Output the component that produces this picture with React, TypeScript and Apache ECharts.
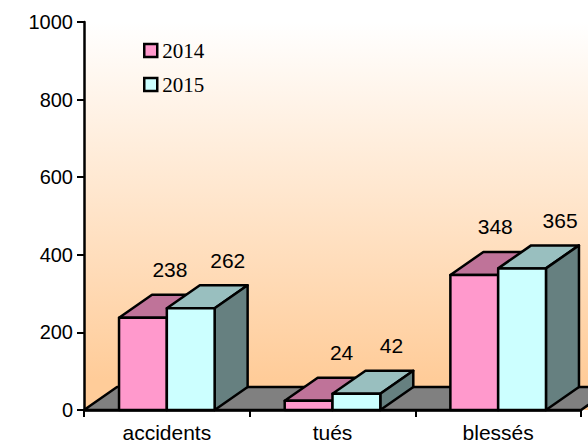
import React, { useEffect, useRef } from "react";
import * as echarts from "echarts";

const categories = ["accidents", "tués", "blessés"];
const values2014 = [238, 24, 348];
const values2015 = [262, 42, 365];
const seriesNames = ["2014", "2015"];
const yTicks = { min: 0, max: 1000, interval: 200 };

const DEPTH_X = 33;
const DEPTH_Y = 23;
const BAR_RATIO = 0.2885;
const LABEL_LIFT = 48;
const labelShift2014 = [27, 33, 21];
const labelShift2015 = [37, 35, 38];
const SANS = '"Liberation Sans", Arial, sans-serif';
const SERIF = '"Liberation Serif", "Times New Roman", serif';
const LINE = { stroke: "#000", lineWidth: 2.5, lineJoin: "round" as const };

function barSeries(name: string, values: number[], offset: number, shift: number[], colors: { front: string; top: string; side: string }) {
  return {
    type: "custom",
    name,
    z: 3 + offset,
    itemStyle: { color: colors.front },
    data: values.map((v, i) => [i, v]),
    renderItem: (_: unknown, api: any) => {
      const i = api.value(0);
      const [cx, yTop] = api.coord([i, api.value(1)]);
      const [, y0] = api.coord([i, 0]);
      const w = api.size([1, 0])[0] * BAR_RATIO;
      const x0 = cx + (offset - 1) * w;
      const x1 = x0 + w;
      const poly = (points: number[][], fill: string) => ({ type: "polygon", shape: { points }, style: { fill, ...LINE } });
      return {
        type: "group",
        children: [
          poly([[x0, yTop], [x0 + DEPTH_X, yTop - DEPTH_Y], [x1 + DEPTH_X, yTop - DEPTH_Y], [x1, yTop]], colors.top),
          poly([[x1, yTop], [x1 + DEPTH_X, yTop - DEPTH_Y], [x1 + DEPTH_X, y0 - DEPTH_Y], [x1, y0]], colors.side),
          { type: "rect", shape: { x: x0, y: yTop, width: w, height: y0 - yTop }, style: { fill: colors.front, ...LINE } },
          {
            type: "text",
            style: {
              text: String(api.value(1)),
              x: x0 + w / 2 + shift[i],
              y: yTop - LABEL_LIFT,
              align: "center",
              verticalAlign: "middle",
              font: `21px ${SANS}`,
              fill: "#000",
            },
          },
        ],
      };
    },
  };
}

export default function App() {
  const ref = useRef<HTMLDivElement>(null);
  useEffect(() => {
    const chart = echarts.init(ref.current!, null, { renderer: "svg" });
    chart.setOption({
      animation: false,
      backgroundColor: "#fff",
      grid: { left: 84, right: 7, top: 22, bottom: 34, outerBoundsMode: "none" },
      graphic: [
        {
          type: "rect",
          z: -10,
          shape: { x: 84, y: 22, width: 504, height: 388 },
          style: {
            fill: new echarts.graphic.LinearGradient(0, 0, 0, 1, [
              { offset: 0, color: "#FFFFFF" },
              { offset: 0.92, color: "#FFCC99" },
              { offset: 1, color: "#FFCC99" },
            ]),
          },
        },
      ],
      legend: {
        data: seriesNames,
        orient: "vertical",
        left: 138,
        top: 35,
        itemWidth: 13,
        itemHeight: 13,
        itemGap: 13,
        icon: "rect",
        itemStyle: { borderColor: "#000", borderWidth: 2.5 },
        textStyle: { fontFamily: SERIF, fontSize: 21, lineHeight: 21, color: "#000", padding: [0, 0, 0, 0] },
        selectedMode: false,
      },
      xAxis: {
        type: "category",
        data: categories,
        z: 6,
        axisLine: { show: true, lineStyle: { color: "#000", width: 2.5 } },
        axisTick: { show: true, length: 7, lineStyle: { color: "#000", width: 2 }, alignWithLabel: false },
        axisLabel: { color: "#000", fontFamily: SANS, fontSize: 21, lineHeight: 20, margin: 12 },
      },
      yAxis: {
        type: "value",
        ...yTicks,
        z: 6,
        splitLine: { show: false },
        axisLine: { show: true, lineStyle: { color: "#000", width: 2.5 } },
        axisTick: { show: true, length: 7, lineStyle: { color: "#000", width: 2 } },
        axisLabel: { color: "#000", fontFamily: SANS, fontSize: 20, margin: 11, formatter: (v: number) => String(v) },
      },
      series: [
        {
          type: "custom",
          name: "floor",
          z: 1,
          data: [[0, 0]],
          renderItem: (_: unknown, api: any) => {
            const [cx, y0] = api.coord([0, 0]);
            const band = api.size([1, 0])[0];
            const left = cx - band / 2;
            const right = left + band * categories.length;
            return {
              type: "polygon",
              shape: {
                points: [
                  [left, y0],
                  [left + DEPTH_X, y0 - DEPTH_Y],
                  [right + DEPTH_X, y0 - DEPTH_Y],
                  [right, y0],
                ],
              },
              style: { fill: "#808080", ...LINE },
            };
          },
        },
        barSeries(seriesNames[0], values2014, 0, labelShift2014, { front: "#FF99CC", top: "#BF7399", side: "#BF7399" }),
        barSeries(seriesNames[1], values2015, 1, labelShift2015, { front: "#CCFFFF", top: "#99BFBF", side: "#668080" }),
      ],
    });
    return () => chart.dispose();
  }, []);
  return <div ref={ref} style={{ position: "fixed", left: 0, top: 0, width: 588, height: 444 }} />;
}
